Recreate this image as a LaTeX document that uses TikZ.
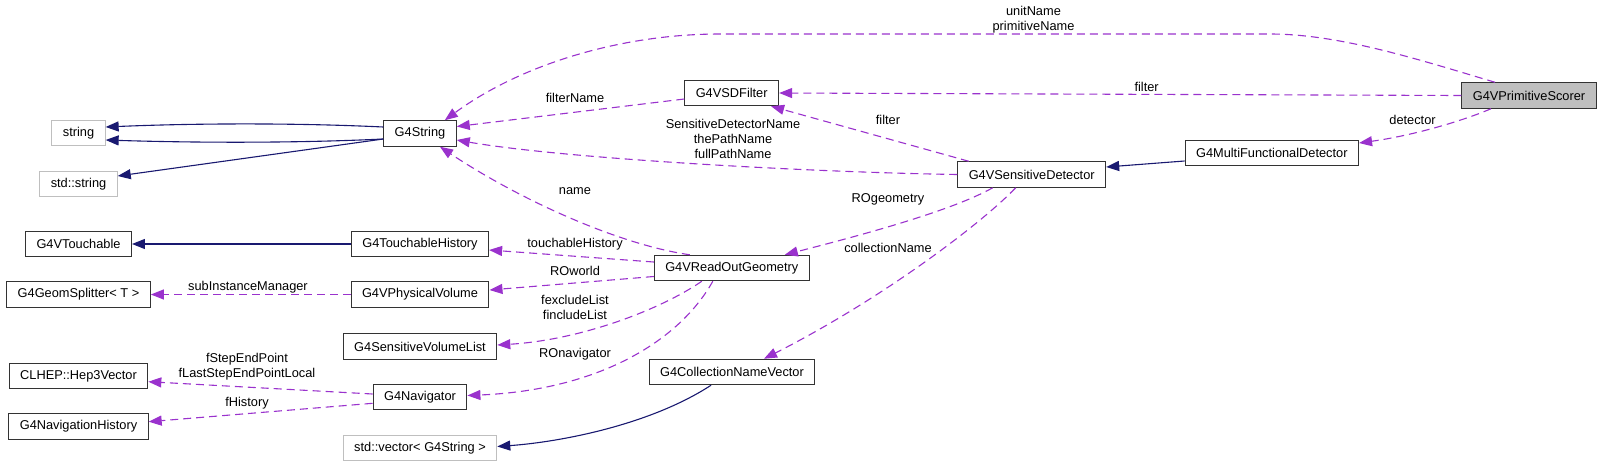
\documentclass[tikz,border=0pt]{standalone}
\usepackage{fontspec}
\setmainfont{Liberation Sans}
\usetikzlibrary{arrows.meta}
\definecolor{edgeblue}{HTML}{191970}
\definecolor{edgepurple}{HTML}{9A32CD}
\definecolor{boxgray}{HTML}{BFBFBF}

\begin{document}
\begin{tikzpicture}[x=1pt, y=-1pt,
      every node/.style={font=\fontsize{12.8}{15}\selectfont},
      classbox/.style={
        rectangle,
        draw=black!80, line width=1pt,
        fill=white,
        inner xsep=11pt, inner ysep=0pt,
        minimum height=25.5pt,
        align=center
      },
      extbox/.style={classbox, draw=boxgray},
      mainbox/.style={classbox, fill=boxgray},
      inherits/.style={
        -{Triangle[length=13pt,width=10pt]},
        draw=edgeblue, line width=1.1pt
      },
      member/.style={
        -{Triangle[length=13pt,width=10pt]},
        draw=edgepurple, line width=1.1pt,
        dash pattern=on 8pt off 5pt
      },
      lbl/.style={align=center, inner sep=0pt}
    ]
      \useasboundingbox (0,0) rectangle (1603,467);

      % classes
      \node[extbox] (str) at (78.5,133) {string};
      \node[extbox] (stdstr) at (78.5,184) {std::string};
      \node[classbox] (gstring) at (420,133.5) {G4String};
      \node[classbox] (vtouch) at (78.5,244) {G4VTouchable};
      \node[classbox] (thist) at (420,244) {G4TouchableHistory};
      \node[classbox] (gsplit) at (78.5,294.5) {G4GeomSplitter< T >};
      \node[classbox] (pvol) at (420,294.5) {G4VPhysicalVolume};
      \node[classbox] (svlist) at (420,346.5) {G4SensitiveVolumeList};
      \node[classbox] (hep3) at (78.5,376) {CLHEP::Hep3Vector};
      \node[classbox] (nav) at (420,397) {G4Navigator};
      \node[classbox] (navhist) at (78.5,426.5) {G4NavigationHistory};
      \node[extbox] (stdvec) at (420,448) {std::vector< G4String >};
      \node[classbox] (sdfilter) at (731.7,93) {G4VSDFilter};
      \node[classbox] (rogeom) at (731.8,268) {G4VReadOutGeometry};
      \node[classbox] (collvec) at (732,372) {G4CollectionNameVector};
      \node[classbox] (sensdet) at (1031.7,174.5) {G4VSensitiveDetector};
      \node[classbox] (mfdet) at (1271.8,153) {G4MultiFunctionalDetector};
      \node[mainbox] (pscorer) at (1529,95.5) {G4VPrimitiveScorer};

      % inheritance
      \draw[inherits] ([yshift=6.5pt]gstring.west) .. controls (300,123) and (200,123) .. ([yshift=6pt]str.east);
      \draw[inherits] ([yshift=-5.5pt]gstring.west) .. controls (300,143) and (200,143) .. ([yshift=-7pt]str.east);
      \draw[inherits] ([yshift=-5.5pt]gstring.west) -- ([yshift=8pt]stdstr.east);
      \draw[inherits] (thist) -- (vtouch);
      \draw[inherits] ([xshift=-21pt]collvec.south) .. controls (650,425) and (560,442) .. ([yshift=1.5pt]stdvec.east);
      \draw[inherits] ([yshift=-8pt]mfdet.west) -- ([yshift=7.5pt]sensdet.east);

      % members
      \draw[member] ([xshift=-34pt]pscorer.north) .. controls (1420,60) and (1340,34) .. (1270,34) -- (720,34)
        .. controls (620,34) and (520,65) .. ([xshift=-12pt]gstring.north east);
      \draw[member] (pscorer.west) -- (sdfilter.east);
      \draw[member] ([xshift=-38pt]pscorer.south) .. controls (1460,122) and (1410,136) .. ([yshift=10pt]mfdet.east);
      \draw[member] ([yshift=-6pt]sdfilter.west) -- ([yshift=7pt]gstring.east);
      \draw[member] ([xshift=-63pt]sensdet.north) -- ([xshift=-8pt]sdfilter.south east);
      \draw[member] (sensdet.west) .. controls (800,172) and (560,158) .. ([yshift=-6.5pt]gstring.east);
      \draw[member] ([xshift=-42pt]rogeom.north) .. controls (620,245) and (520,200) .. ([xshift=20pt]gstring.south);
      \draw[member] ([xshift=-39pt]sensdet.south) .. controls (950,212) and (850,238) .. ([xshift=53pt]rogeom.north);
      \draw[member] ([xshift=-16pt]sensdet.south) .. controls (980,225) and (880,300) .. ([xshift=32pt]collvec.north);
      \draw[member] ([yshift=6pt]rogeom.west) -- ([yshift=-6pt]thist.east);
      \draw[member] ([yshift=-8.5pt]rogeom.west) -- ([yshift=4.5pt]pvol.east);
      \draw[member] ([xshift=-30pt]rogeom.south) .. controls (660,310) and (580,340) .. ([yshift=1.5pt]svlist.east);
      \draw[member] ([xshift=-19pt]rogeom.south) .. controls (680,340) and (600,390) .. ([yshift=1.5pt]nav.east);
      \draw[member] (pvol.west) -- (gsplit.east);
      \draw[member] ([yshift=3pt]nav.west) -- ([yshift=-5.7pt]hep3.east);
      \draw[member] ([yshift=-6.3pt]nav.west) -- ([yshift=4.8pt]navhist.east);

      % edge labels
      \node[lbl] (l-unit) at (1033.5,19.5) {unitName\\primitiveName};
      \node[lbl] (l-filterA) at (1146.6,87) {filter};
      \node[lbl] (l-detector) at (1412.5,120) {detector};
      \node[lbl] (l-filtername) at (575,98) {filterName};
      \node[lbl] (l-sdname) at (733,139) {SensitiveDetectorName\\thePathName\\fullPathName};
      \node[lbl] (l-filterB) at (888,120) {filter};
      \node[lbl] (l-name) at (575,191) {name};
      \node[lbl] (l-rogeom) at (888,199) {ROgeometry};
      \node[lbl] (l-coll) at (888,248) {collectionName};
      \node[lbl] (l-touch) at (575,244) {touchableHistory};
      \node[lbl] (l-roworld) at (575,271) {ROworld};
      \node[lbl] (l-lists) at (575,307.5) {fexcludeList\\fincludeList};
      \node[lbl] (l-ronav) at (575,354) {ROnavigator};
      \node[lbl] (l-subinst) at (248,286.7) {subInstanceManager};
      \node[lbl] (l-step) at (247,367) {fStepEndPoint\\fLastStepEndPointLocal};
      \node[lbl] (l-hist) at (247,402.7) {fHistory};
    \end{tikzpicture}
\end{document}
